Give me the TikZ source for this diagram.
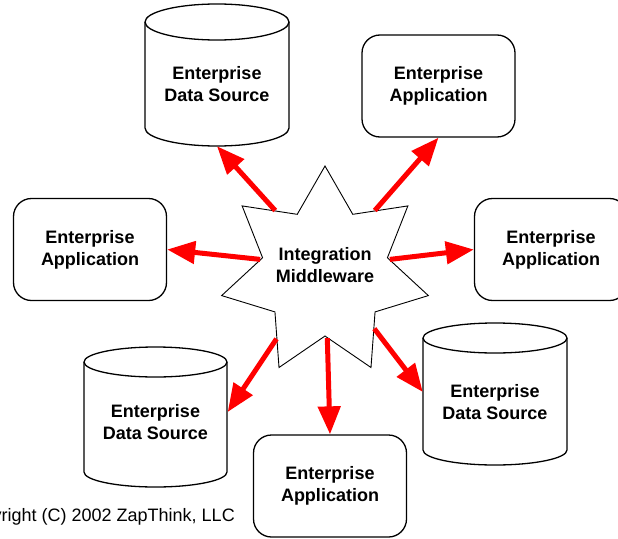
\documentclass[tikz,border=0pt]{standalone}
\usepackage{fontspec}
\setmainfont{Liberation Sans}
\usetikzlibrary{shapes.geometric,arrows.meta}
\begin{document}
\begin{tikzpicture}[x=1pt,y=1pt,
  txt/.style={font=\fontsize{18}{22}\selectfont\bfseries, align=center, inner sep=0pt},
  appbox/.style={txt, draw, line width=1.3pt, rounded corners=18pt,
                 minimum width=153pt, minimum height=102pt},
  dbtext/.style={txt, minimum width=144pt},
  dbline/.style={line width=1.3pt},
  feed/.style={draw=red, line width=5pt, -{Triangle[length=28pt,width=22pt]}}
]
\useasboundingbox (0,0) rectangle (618,-538);
\clip (0,0) rectangle (618,-538);

% data source cylinders
\draw[dbline] (145,-22) -- (145,-128) arc[start angle=180, end angle=360, x radius=72, y radius=18] -- (289,-22);
\draw[dbline] (217,-22) ellipse [x radius=72, y radius=18];
\node[dbtext, minimum height=124pt] (dsT) at (217,-84) {Enterprise\\Data Source};

\draw[dbline] (84,-362) -- (84,-472) arc[start angle=180, end angle=360, x radius=71.5, y radius=15] -- (227,-362);
\draw[dbline] (155.5,-362) ellipse [x radius=71.5, y radius=15];
\node[dbtext] (dsL) at (155.5,-422) {Enterprise\\Data Source};

\draw[dbline] (423,-338) -- (423,-450) arc[start angle=180, end angle=360, x radius=72, y radius=15] -- (567,-338);
\draw[dbline] (495,-338) ellipse [x radius=72, y radius=15];
\node[dbtext] (dsR) at (495,-402) {Enterprise\\Data Source};

% application boxes
\node[appbox] (eaTR) at (438.5,-86)  {Enterprise\\Application};
\node[appbox] (eaL)  at (90,-249.5)  {Enterprise\\Application};
\node[appbox] (eaR)  at (551,-249.5) {Enterprise\\Application};
\node[appbox] (eaB)  at (330,-486)   {Enterprise\\Application};

% middleware hub
\node[star, star points=7, star point ratio=1.656, minimum size=212pt,
      inner sep=0pt, draw, line width=0.9pt] (hub) at (325,-272) {};
\node[txt] (mw) at (325,-265.5) {Integration\\Middleware};

% connectors
\draw[feed] (hub.129.6) -- (dsT.south);
\draw[feed] (hub.51.6)  -- (eaTR.south);
\draw[feed] (hub.169)   -- (eaL.east);
\draw[feed] (hub.11)    -- (eaR.west);
\draw[feed] (hub.234.8) -- ([yshift=10pt]dsL.east);
\draw[feed] (hub.-88)   -- (eaB.north);
\draw[feed] (hub.-49)   -- ([yshift=10pt]dsR.west);

% footer
\node[font=\fontsize{18}{21}\selectfont, anchor=base east, inner sep=0pt] (copy)
  at (235,-521) {Copyright (C) 2002 ZapThink, LLC};
\end{tikzpicture}
\end{document}
